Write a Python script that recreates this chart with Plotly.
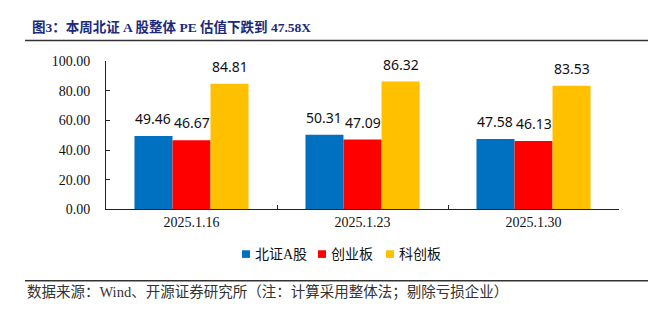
import plotly.graph_objects as go

# Weekly PE snapshots (whole-method, loss-making firms excluded)
dates = ["2025.1.16", "2025.1.23", "2025.1.30"]
series_names = ["北证A股", "创业板", "科创板"]
bse_pe = [49.46, 50.31, 47.58]
chinext_pe = [46.67, 47.09, 46.13]
star_pe = [84.81, 86.32, 83.53]
y_ticks = [0, 20, 40, 60, 80, 100]

colors = ["#0070C0", "#FF0000", "#FFC000"]
values = [bse_pe, chinext_pe, star_pe]

W, H = 652, 326
x0, x1 = 106, 619          # plot area, pixels
y_top, y_bot = 57, 212
bargap = 0.333

serif = "Liberation Serif, Times New Roman, Noto Sans CJK SC"
cjk = "Liberation Serif, Noto Sans CJK SC"

fig = go.Figure()
for name, vals, c in zip(series_names, values, colors):
    fig.add_trace(go.Bar(x=dates, y=vals, name=name, showlegend=False,
                         marker=dict(color=c, line=dict(width=0))))

# value labels above each bar
group_px = (x1 - x0) / len(dates)
bar_px = group_px * (1 - bargap) / len(series_names)
annotations = []
for i, vals in enumerate(values):
    shift = (i - (len(series_names) - 1) / 2) * bar_px
    for d, v in zip(dates, vals):
        annotations.append(dict(
            x=d, y=v, xref="x", yref="y", text=f"{v:.2f}", showarrow=False,
            xanchor="center", yanchor="bottom", xshift=shift, yshift=6,
            font=dict(family="Noto Sans, Liberation Sans", size=14, color="#111111"),
        ))

# title and source note
annotations.append(dict(
    x=30 / W, y=1 - 21 / H, xref="paper", yref="paper", xanchor="left", yanchor="middle",
    text="<b>图3：本周北证 A 股整体 PE 估值下跌到 47.58X</b>", showarrow=False,
    font=dict(family=cjk, size=13.5, color="#1b2a7a"),
))
annotations.append(dict(
    x=25 / W, y=1 - 299 / H, xref="paper", yref="paper", xanchor="left", yanchor="middle",
    text="数据来源：Wind、开源证券研究所（注：计算采用整体法；剔除亏损企业）", showarrow=False,
    font=dict(family=cjk, size=14.5, color="#333333"),
))

shapes = [
    dict(type="line", xref="paper", yref="paper", x0=25 / W, x1=648 / W,
         y0=1 - 35 / H, y1=1 - 35 / H, line=dict(color="#333333", width=1.5)),
    dict(type="line", xref="paper", yref="paper", x0=25 / W, x1=648 / W,
         y0=1 - 287 / H, y1=1 - 287 / H, line=dict(color="#333333", width=1.5)),
]

# legend row: colour key squares with series names
legend_left = [242, 318, 386]
legend_y = 259
for name, c, lx in zip(series_names, colors, legend_left):
    shapes.append(dict(type="rect", xref="paper", yref="paper",
                       x0=lx / W, x1=(lx + 8) / W,
                       y0=1 - (legend_y + 4) / H, y1=1 - (legend_y - 4) / H,
                       fillcolor=c, line=dict(width=0)))
    annotations.append(dict(
        x=(lx + 11) / W, y=1 - legend_y / H, xref="paper", yref="paper",
        xanchor="left", yanchor="middle", text=name, showarrow=False,
        font=dict(family=cjk, size=14, color="#111111"),
    ))

fig.update_layout(
    width=W, height=H, autosize=False,
    margin=dict(l=0, r=0, t=0, b=0),
    paper_bgcolor="white", plot_bgcolor="white",
    barmode="group", bargap=bargap, bargroupgap=0,
    annotations=annotations, shapes=shapes, showlegend=False,
    xaxis=dict(domain=[x0 / W, x1 / W], type="category", showline=True, linecolor="#222222",
               linewidth=1, ticks="inside", ticklen=4, tickcolor="#222222", tickson="boundaries",
               tickfont=dict(family=serif, size=14, color="#111111"), showgrid=False),
    yaxis=dict(domain=[1 - y_bot / H, 1 - y_top / H], range=[0, 100], tickvals=y_ticks,
               tickformat=".2f", showline=True, linecolor="#222222", linewidth=1,
               ticks="inside", ticklen=4, tickcolor="#222222", showgrid=False, zeroline=False,
               ticklabelstandoff=12,
               tickfont=dict(family=serif, size=14, color="#111111")),
)

fig.write_html("out.html")
